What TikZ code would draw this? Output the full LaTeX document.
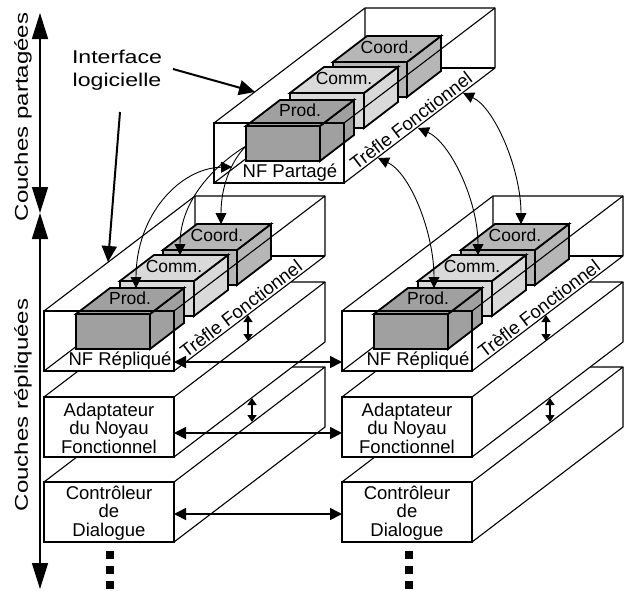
\documentclass[tikz,border=0pt]{standalone}
\usepackage{fontspec}
\setmainfont{Liberation Sans}
\usepackage{graphicx}
\usetikzlibrary{arrows.meta,calc}
\definecolor{prodc}{RGB}{160,160,160}
\definecolor{commc}{RGB}{217,217,217}
\definecolor{coordc}{RGB}{182,182,182}
\tikzset{
 thinl/.style={line width=1.1pt, line join=round},
 frontl/.style={line width=1.7pt},
 cubel/.style={line width=1.8pt, line join=miter},
 txt/.style={font=\fontsize{18.5}{18.5}\selectfont, inner sep=0pt},
 cubetxt/.style={font=\fontsize{17.5}{18}\selectfont, inner sep=0pt},
 conn/.style={line width=0.9pt, -{Triangle[length=11pt,width=11pt]}},
 dconn/.style={line width=0.9pt, {Triangle[length=11pt,width=11pt]}-{Triangle[length=11pt,width=11pt]}},
 harrow/.style={line width=1.7pt, {Triangle[length=12pt,width=12pt]}-{Triangle[length=12pt,width=12pt]}},
 varrow/.style={line width=1.4pt, {Triangle[length=7pt,width=9pt]}-{Triangle[length=7pt,width=9pt]}},
 bigarrow/.style={line width=2pt, -{Triangle[length=16pt,width=15pt]}},
 axisarrow/.style={line width=1.6pt, {Triangle[length=26pt,width=16pt]}-{Triangle[length=26pt,width=16pt]}},
 dotsq/.style={fill=black, minimum size=8.5pt, inner sep=0pt}
}
\newcommand\mycube[3]{%
 \begin{scope}[shift={(#1,#2)}]
 \filldraw[cubel, fill=#3] (74,0) -- (108,-26) -- (108,9) -- (74,35) -- cycle;
 \filldraw[cubel, fill=#3] (0,0) -- (34,-26) -- (108,-26) -- (74,0) -- cycle;
 \filldraw[cubel, fill=#3] (0,0) rectangle (74,35);
 \end{scope}}
\newcommand\plainlayer[4]{%
 \begin{scope}[shift={(#2,#3)}]
 \fill[white] (0,0) -- (0,60) -- (130,60) -- (281,-55) -- (281,-115) -- (151,-115) -- cycle;
 \draw[thinl] (0,0) -- (151,-115) -- (281,-115) -- (130,0);
 \draw[thinl] (281,-115) -- (281,-55) -- (130,60);
 \draw[frontl] (0,0) rectangle (130,60);
 \node[txt, align=center] (#1) at (65,31) {#4};
 \end{scope}}
\newcommand\treflelayer[4]{%
 \begin{scope}[shift={(#2,#3)}]
 \fill[white] (0,0) -- (0,60) -- (130,60) -- (281,-55) -- (281,-115) -- (151,-115) -- cycle;
 \draw[thinl] (0,60) -- (151,-55) -- (151,-115);
 \draw[thinl] (151,-55) -- (281,-55);
 \draw[thinl] (0,0) -- (151,-115) -- (281,-115);
 \mycube{119}{-61}{coordc}
 \node[cubetxt] (#1coord) at (173,-76) {Coord.};
 \mycube{76}{-30}{commc}
 \node[cubetxt] (#1comm) at (130,-45) {Comm.};
 \mycube{32}{3}{prodc}
 \node[cubetxt] (#1prod) at (86,-13) {Prod.};
 \draw[thinl] (130,0) -- (281,-115) -- (281,-55) -- (130,60);
 \draw[frontl] (0,0) rectangle (130,60);
 \node[txt, anchor=base] (#1nf) at (76,54) {#4};
 \node[txt, rotate=37.3, anchor=south, inner sep=2pt] (#1tf) at ($(130,60)!0.48!(281,-55)$) {Trèfle Fonctionnel};
 \end{scope}}
\begin{document}
\begin{tikzpicture}[x=1pt,y=-1pt]
\useasboundingbox (0,0) rectangle (624,590);
% shared layer
\treflelayer{s}{214}{123}{NF Partagé}
% left stack
\plainlayer{lctl}{44}{482}{Contrôleur\\de\\Dialogue}
\plainlayer{ladapt}{44}{397}{Adaptateur\\du Noyau\\Fonctionnel}
\treflelayer{l}{44}{311}{NF Répliqué}
% right stack
\plainlayer{rctl}{342}{482}{Contrôleur\\de\\Dialogue}
\plainlayer{radapt}{342}{397}{Adaptateur\\du Noyau\\Fonctionnel}
\treflelayer{r}{342}{311}{NF Répliqué}
% named end points
\coordinate (sA) at (463,93);
\coordinate (sB) at (418,128);
\coordinate (sC) at (378,158);
\coordinate (rCoordT) at (521,224);
\coordinate (rCommT) at (478,255);
\coordinate (rProdT) at (434,288);
\coordinate (lCoordT) at (221,224);
\coordinate (lCommT) at (180,255);
\coordinate (lProdT) at (136,288);
\coordinate (sProdL) at (246,146);
\coordinate (sIn) at (232,167);
% curved connectors
\draw[dconn] (sA) .. controls (495,108) and (521,170) .. (rCoordT);
\draw[dconn] (sB) .. controls (450,142) and (478,200) .. (rCommT);
\draw[dconn] (sC) .. controls (410,173) and (434,232) .. (rProdT);
\draw[dconn] (sIn) .. controls (180,168) and (136,215) .. (lProdT);
\draw[conn] (sProdL) .. controls (215,165) and (180,200) .. (lCommT);
\draw[conn] (sProdL) .. controls (232,160) and (221,185) .. (lCoordT);
% horizontal links
\coordinate (l1e) at (174,362); \coordinate (r1w) at (342,362);
\coordinate (l2e) at (174,433); \coordinate (r2w) at (342,433);
\coordinate (l3e) at (174,514); \coordinate (r3w) at (342,514);
\draw[harrow] (l1e) -- (r1w);
\draw[harrow] (l2e) -- (r2w);
\draw[harrow] (l3e) -- (r3w);
% small vertical links
\coordinate (lv1a) at (248,315); \coordinate (lv1b) at (248,341);
\coordinate (lv2a) at (252,398); \coordinate (lv2b) at (252,422);
\coordinate (rv1a) at (546,315); \coordinate (rv1b) at (546,341);
\coordinate (rv2a) at (550,398); \coordinate (rv2b) at (550,422);
\draw[varrow] (lv1a) -- (lv1b);
\draw[varrow] (lv2a) -- (lv2b);
\draw[varrow] (rv1a) -- (rv1b);
\draw[varrow] (rv2a) -- (rv2b);
% interface label
\node[txt, align=center, anchor=north, font=\fontsize{18.5}{23}\selectfont] (iface) at (117,50) {\scalebox{1.25}[1]{Interface}\\\scalebox{1.25}[1]{logicielle}};
\coordinate (ia1) at (173,69); \coordinate (ia1t) at (255,92);
\coordinate (ia2) at (120,112); \coordinate (ia2t) at (108,262);
\draw[bigarrow] (ia1) -- (ia1t);
\draw[bigarrow] (ia2) -- (ia2t);
% axis
\coordinate (ax0) at (40,13); \coordinate (axm) at (40,213); \coordinate (ax1) at (40,589);
\draw[axisarrow] (ax0) -- (axm);
\draw[axisarrow] (axm) -- (ax1);
\node[txt, rotate=90, font=\fontsize{18.5}{18.5}\selectfont] (cpart) at (23,117) {\scalebox{1.3}[1]{Couches partagées}};
\node[txt, rotate=90, font=\fontsize{18.5}{18.5}\selectfont] (crep) at (23,405) {\scalebox{1.3}[1]{Couches répliquées}};
% continuation dots
\node[dotsq] (ld1) at (110,555) {}; \node[dotsq] (ld2) at (110,570) {}; \node[dotsq] (ld3) at (110,585) {};
\node[dotsq] (rd1) at (409,555) {}; \node[dotsq] (rd2) at (409,570) {}; \node[dotsq] (rd3) at (409,585) {};
\end{tikzpicture}
\end{document}
